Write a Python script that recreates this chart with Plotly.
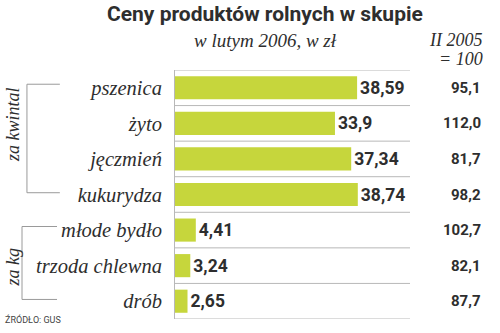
import plotly.graph_objects as go

categories = ["pszenica", "żyto", "jęczmień", "kukurydza", "młode bydło", "trzoda chlewna", "drób"]
prices = [38.59, 33.9, 37.34, 38.74, 4.41, 3.24, 2.65]
index_2005 = [95.1, 112.0, 81.7, 98.2, 102.7, 82.1, 87.7]
groups = [("za kwintal", 0, 3), ("za kg", 4, 6)]

GREEN = "#c6d63c"
DARK = "#2e2e2e"
GRID = "#b8b8b8"
SERIF = "Liberation Serif"
SANS = "Roboto"

ypos = list(range(len(categories)))
fig = go.Figure()
fig.add_trace(go.Bar(
    x=prices, y=ypos, orientation="h",
    marker=dict(color=GREEN, line=dict(width=0)),
    text=[str(v).replace(".", ",") for v in prices],
    textposition="outside", cliponaxis=False,
    textfont=dict(family=SANS, size=17.5, color=DARK, weight="bold"),
    width=0.65,
))

shapes = []
for k in range(len(categories) + 1):
    shapes.append(dict(type="line", xref="paper", yref="y", x0=0, x1=1,
                       y0=k - 0.5, y1=k - 0.5, line=dict(color=GRID, width=1)))
annotations = []
for i, v in enumerate(index_2005):
    annotations.append(dict(xref="paper", yref="y", x=1.31, y=i, xanchor="right",
                            yanchor="middle", showarrow=False,
                            text=f"{v:.1f}".replace(".", ","),
                            font=dict(family=SANS, size=15, color=DARK, weight="bold")))
bx = [(-0.63, -0.49), (-0.651, -0.502)]
for (label, a, b), (x0, x1) in zip(groups, bx):
    y0 = a - 0.1
    y1 = b - 0.05
    shapes.append(dict(type="path", xref="paper", yref="y",
                       path=f"M {x1},{y0} L {x0},{y0} L {x0},{y1} L {x1},{y1}",
                       line=dict(color="#9a9a9a", width=1)))
    annotations.append(dict(xref="paper", yref="y", x=-0.69,
                            y=(y0 + y1) / 2 - (0.4 if b - a == 3 else -0.1),
                            xanchor="center", yanchor="middle", showarrow=False, textangle=-90,
                            text=label, font=dict(family=SERIF, size=18, color=DARK, style="italic")))

annotations += [
    dict(xref="paper", yref="paper", x=0.383, y=1.225, xanchor="center", yanchor="middle",
         showarrow=False, text="Ceny produktów rolnych w skupie",
         font=dict(family=SANS, size=21, color=DARK, weight="bold")),
    dict(xref="paper", yref="paper", x=0.383, y=1.12, xanchor="center", yanchor="middle",
         showarrow=False, text="w lutym 2006, w zł",
         font=dict(family=SERIF, size=19, color=DARK, style="italic")),
    dict(xref="paper", yref="paper", x=1.319, y=1.12, xanchor="right", yanchor="middle",
         showarrow=False, text="II 2005",
         font=dict(family=SERIF, size=18, color=DARK, style="italic")),
    dict(xref="paper", yref="paper", x=1.319, y=1.045, xanchor="right", yanchor="middle",
         showarrow=False, text="= 100",
         font=dict(family=SERIF, size=18, color=DARK, style="italic")),
    dict(xref="paper", yref="paper", x=-0.732, y=0.0, xanchor="left", yanchor="middle",
         showarrow=False, text="ŹRÓDŁO: GUS",
         font=dict(family=SANS, size=9, color="#444444")),
]

fig.update_layout(
    width=500, height=333,
    margin=dict(l=175, r=90, t=70, b=14),
    paper_bgcolor="white", plot_bgcolor="white",
    showlegend=False,
    shapes=shapes, annotations=annotations,
    xaxis=dict(range=[0, 49.8], showgrid=False, zeroline=False, showticklabels=False,
               ticks="", showline=False, fixedrange=True),
    yaxis=dict(range=[len(categories) - 0.5, -0.5], tickmode="array", tickvals=ypos,
               ticktext=categories, showgrid=False, zeroline=False,
               showline=True, linecolor=GRID, linewidth=1, mirror=False,
               ticks="outside", ticklen=8, tickcolor="rgba(0,0,0,0)",
               tickfont=dict(family=SERIF, size=20.5, color=DARK, style="italic")),
)
fig.write_html("out.html")
